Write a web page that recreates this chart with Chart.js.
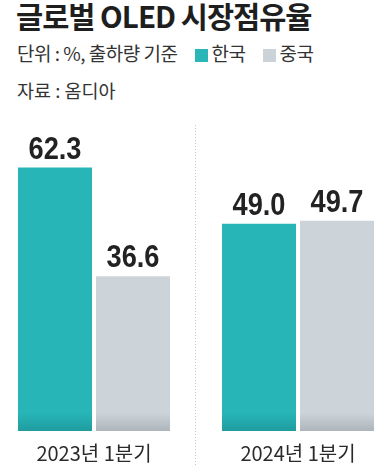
<!DOCTYPE html>
<html>
<head>
<meta charset="utf-8">
<script src="https://cdn.jsdelivr.net/npm/chart.js@4"></script>
<style>
  body { margin: 0; width: 378px; height: 467px; overflow: hidden; background: #fff; position: relative;
         font-family: "Noto Sans CJK KR", sans-serif; color: #333; }
  #title { position: absolute; left: 16px; top: -6px; font-size: 29.5px; font-weight: 700; letter-spacing: -1px; color: #1e1e1e; }
  #unit { position: absolute; left: 17px; top: 39px; font-size: 19px; letter-spacing: -0.5px; color: #333; white-space: nowrap; }
  #src { position: absolute; left: 17px; top: 77px; font-size: 18.5px; color: #333; }
  .sw { display: inline-block; width: 13px; height: 13px; vertical-align: -1px; margin-right: 3px; }
  .gap { display: inline-block; width: 18px; }
  #wrap { position: absolute; left: -8px; top: 110px; width: 408px; height: 357px; }
</style>
</head>
<body>
<div id="title">글로벌 OLED 시장점유율</div>
<div id="unit">단위 : %, 출하량 기준<span class="gap"></span><span class="sw" style="background:#2ab5b8"></span>한국<span class="gap"></span><span class="sw" style="background:#ccd3d8"></span>중국</div>
<div id="src">자료 : 옴디아</div>
<div id="wrap"><canvas id="myChart"></canvas></div>
<script>
var labels = ['2023년 1분기', '2024년 1분기'];
var korea = [62.3, 49.0];
var china = [36.6, 49.7];
var seriesNames = ['한국', '중국'];

function grad(top, bottom) {
    return function(c) {
        var area = c.chart.chartArea;
        if (!area) return top;
        var g = c.chart.ctx.createLinearGradient(0, area.bottom - 18, 0, area.bottom);
        g.addColorStop(0, top);
        g.addColorStop(1, bottom);
        return g;
    };
}

// numbers drawn narrow, like a condensed bold face
var valueLabels = {
    id: 'valueLabels',
    afterDatasetsDraw: function(chart) {
        var ctx = chart.ctx;
        chart.data.datasets.forEach(function(ds, i) {
            chart.getDatasetMeta(i).data.forEach(function(bar, j) {
                ctx.save();
                ctx.translate(bar.x, bar.y - 9);
                ctx.scale(0.85, 1);
                ctx.font = 'bold 32px "Liberation Sans", Arial, sans-serif';
                ctx.fillStyle = '#222';
                ctx.textAlign = 'center';
                ctx.textBaseline = 'alphabetic';
                ctx.fillText(ds.data[j].toFixed(1), 0, 0);
                ctx.restore();
            });
        });
    }
};

var divider = {
    id: 'divider',
    beforeDatasetsDraw: function(chart) {
        var x = chart.scales.x;
        var px = (x.getPixelForValue(0) + x.getPixelForValue(1)) / 2;
        var ctx = chart.ctx;
        ctx.save();
        ctx.strokeStyle = '#c4c4c4';
        ctx.lineWidth = 1;
        ctx.setLineDash([1, 2]);
        ctx.beginPath();
        ctx.moveTo(Math.round(px) - 0.5, 15);
        ctx.lineTo(Math.round(px) - 0.5, chart.height);
        ctx.stroke();
        ctx.restore();
    }
};

var ctx = document.getElementById('myChart');
var myChart = new Chart(ctx, {
    type: 'bar',
    data: {
        labels: labels,
        datasets: [{
            label: seriesNames[0],
            data: korea,
            backgroundColor: grad('#27b5b8', '#1f9c9e')
        }, {
            label: seriesNames[1],
            data: china,
            backgroundColor: grad('#ccd4d9', '#adb5ba')
        }]
    },
    options: {
        responsive: true,
        maintainAspectRatio: false,
        animation: false,
        categoryPercentage: 156 / 204,
        barPercentage: 74 / 78,
        layout: { padding: { top: 25, left: 0, right: 0, bottom: 0 } },
        plugins: { legend: { display: false }, tooltip: { enabled: false } },
        scales: {
            x: {
                grid: { display: false },
                border: { display: false },
                ticks: {
                    color: '#2a2a2a',
                    padding: 2,
                    font: { family: '"Noto Sans CJK KR", sans-serif', size: 20 }
                }
            },
            y: {
                display: false,
                min: 0,
                max: 70
            }
        }
    },
    plugins: [valueLabels, divider]
});
</script>
</body>
</html>
